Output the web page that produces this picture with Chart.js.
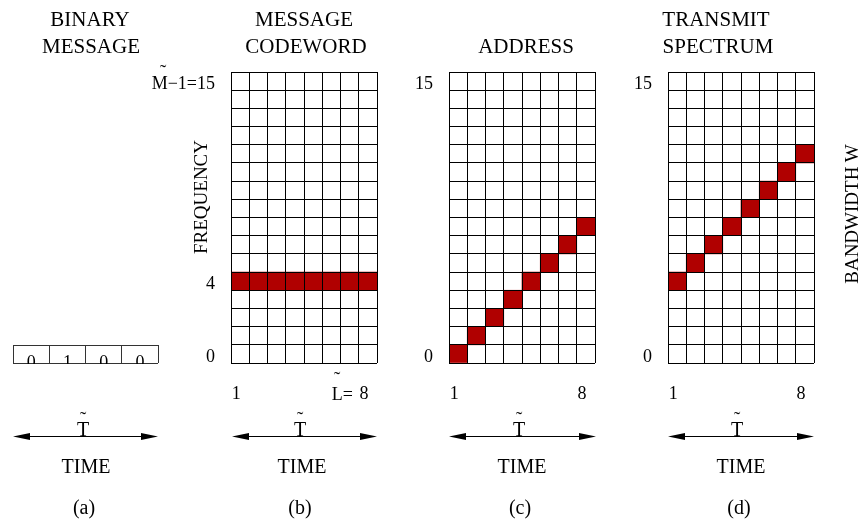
<!DOCTYPE html>
<html>
<head>
<meta charset="utf-8">
<script src="https://cdn.jsdelivr.net/npm/chart.js@4.4.1/dist/chart.umd.min.js"></script>
<style>
  body { margin: 0; width: 863px; height: 523px; position: relative; overflow: hidden; background: #fff;
         font-family: "Liberation Serif", "Times New Roman", serif; color: #000; }
  canvas, svg, .txt { position: absolute; }
  .txt { white-space: nowrap; }
</style>
</head>
<body>
<canvas id="panelA" width="170" height="24" style="left:0px;top:340px"></canvas>
<canvas id="panelB" width="236" height="346" style="left:151px;top:62px"></canvas>
<canvas id="panelC" width="236" height="346" style="left:369px;top:62px"></canvas>
<canvas id="panelD" width="236" height="346" style="left:588px;top:62px"></canvas>
<svg id="arrows" width="863" height="523" style="left:0;top:0"></svg>
<script>
// values
var bits = [0, 1, 0, 0];
var timeLabels = ['1', '', '', '', '', '', '', '8'];
// frequency rows, top (15) to bottom (0)
var freqTicksB = ['M\u22121=15', '', '', '', '', '', '', '', '', '', '', '4', '', '', '', '0'];
var freqTicks = ['15', '', '', '', '', '', '', '', '', '', '', '', '', '', '', '0'];
var codewordRows = [4, 4, 4, 4, 4, 4, 4, 4];
var addressRows = [0, 1, 2, 3, 4, 5, 6, 7];
var transmitRows = [4, 5, 6, 7, 8, 9, 10, 11];
var cellRed = '#b00000';

Chart.defaults.font.family = '"Liberation Serif", "Times New Roman", serif';
Chart.defaults.color = '#000';

// fixed size axis, no extra padding for the outer labels
function fixSize(w, h) {
    return function (s) {
        if (w !== null) s.width = w;
        if (h !== null) s.height = h;
        s.paddingTop = 0;
        s.paddingBottom = 0;
        s.paddingLeft = 0;
        s.paddingRight = 0;
    };
}

function gridChart(id, rows, yTicks) {
    return new Chart(document.getElementById(id), {
        type: 'bar',
        data: {
            labels: timeLabels,
            datasets: [{
                data: rows.map(function (r) { return [r, r + 1]; }),
                backgroundColor: cellRed,
                borderWidth: 0,
                barPercentage: 1,
                categoryPercentage: 1,
                xAxisID: 'x',
                yAxisID: 'y'
            }]
        },
        options: {
            responsive: false,
            animation: false,
            layout: { padding: { top: 10, right: 10, bottom: 0, left: 0 } },
            plugins: { legend: { display: false }, tooltip: { enabled: false } },
            scales: {
                x: {
                    grid: { color: '#000', z: 1, drawTicks: false },
                    border: { display: false },
                    ticks: { autoSkip: false, maxRotation: 0, padding: 20, labelOffset: -4, font: { size: 18 } },
                    afterFit: fixSize(null, 45)
                },
                y: {
                    min: 0,
                    max: 16,
                    ticks: { display: false, stepSize: 1 },
                    grid: { color: '#000', z: 1, drawTicks: false },
                    border: { display: false },
                    afterFit: fixSize(0, null)
                },
                yl: {
                    type: 'category',
                    position: 'left',
                    labels: yTicks,
                    offset: true,
                    grid: { display: false, offset: true },
                    border: { display: false },
                    ticks: { autoSkip: false, padding: 8, labelOffset: 3, font: { size: 18 } },
                    afterFit: fixSize(80, null)
                }
            }
        }
    });
}

// (a) binary message box
new Chart(document.getElementById('panelA'), {
    type: 'bar',
    data: {
        labels: bits.map(String),
        datasets: [{ data: bits, backgroundColor: 'rgba(0,0,0,0)', borderWidth: 0 }]
    },
    options: {
        responsive: false,
        animation: false,
        layout: { padding: { top: 5, right: 12, bottom: 0, left: 13 } },
        plugins: { legend: { display: false }, tooltip: { enabled: false } },
        scales: {
            x: {
                grid: { color: '#333', drawTicks: false },
                border: { display: false },
                // mirrored so the digits sit inside the box, cut off by the canvas edge
                ticks: { autoSkip: false, maxRotation: 0, mirror: true, padding: -11.5, font: { size: 18 } },
                afterFit: fixSize(null, 1)
            },
            y: {
                min: 0,
                max: 1,
                ticks: { display: false, stepSize: 1 },
                grid: { color: '#333', drawTicks: false },
                border: { display: false },
                afterFit: fixSize(0, null)
            }
        }
    }
});

gridChart('panelB', codewordRows, freqTicksB);
gridChart('panelC', addressRows, freqTicks);
gridChart('panelD', transmitRows, freqTicks);

// free text
function addText(str, x, base, size, align, rotate) {
    var el = document.createElement('div');
    el.className = 'txt';
    el.textContent = str;
    el.style.fontSize = size + 'px';
    el.style.lineHeight = size + 'px';
    el.style.left = x + 'px';
    if (rotate) {
        el.style.top = base + 'px';
        el.style.transform = 'translate(-50%,-50%) rotate(-90deg)';
    } else {
        el.style.top = (base - 0.8375 * size) + 'px';
        if (align == 'center') el.style.transform = 'translateX(-50%)';
    }
    document.body.appendChild(el);
}
function addTilde(x, yc) {
    addText('\u02dc', x, yc + 0.62 * 20, 20, 'center');
}

addText('BINARY', 90, 27, 21, 'center');
addText('MESSAGE', 91, 54, 21, 'center');
addText('MESSAGE', 304, 27, 21, 'center');
addText('CODEWORD', 306, 54, 21, 'center');
addText('ADDRESS', 526, 54, 21, 'center');
addText('TRANSMIT', 716, 27, 21, 'center');
addText('SPECTRUM', 718, 54, 21, 'center');

addText('FREQUENCY', 200, 197, 19, 'center', true);
addText('BANDWIDTH W', 851, 214, 19, 'center', true);

addTilde(163, 66);
addText('L=', 331.7, 400, 18, 'left');
addTilde(337, 373);

var timeCenters = [86, 302, 522, 741];
var tCenters = [83, 300, 519, 737];
var captions = ['(a)', '(b)', '(c)', '(d)'];
for (var i = 0; i < 4; i++) {
    addText('T', tCenters[i], 436, 20, 'center');
    addTilde(tCenters[i], 413);
    addText('TIME', timeCenters[i], 473, 20, 'center');
    addText(captions[i], timeCenters[i] - 2, 514, 20, 'center');
}

// double headed arrows under each panel
var svg = document.getElementById('arrows');
var spans = [[13, 158], [232, 377], [449, 596], [668, 814]];
var ay = 436.5;
spans.forEach(function (s) {
    var a = s[0], b = s[1];
    svg.innerHTML +=
        '<line x1="' + (a + 10) + '" y1="' + ay + '" x2="' + (b - 10) + '" y2="' + ay + '" stroke="#000" stroke-width="1.2"/>' +
        '<polygon points="' + a + ',' + ay + ' ' + (a + 17) + ',' + (ay - 3.5) + ' ' + (a + 17) + ',' + (ay + 3.5) + '" fill="#000"/>' +
        '<polygon points="' + b + ',' + ay + ' ' + (b - 17) + ',' + (ay - 3.5) + ' ' + (b - 17) + ',' + (ay + 3.5) + '" fill="#000"/>';
});
</script>
</body>
</html>
